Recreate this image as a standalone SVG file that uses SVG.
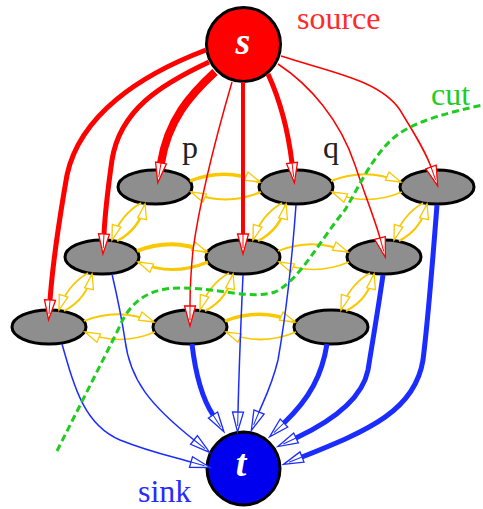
<svg xmlns="http://www.w3.org/2000/svg" width="483" height="509" viewBox="0 0 483 509">
<style>
.node{fill:#8e8e8e;stroke:#000;stroke-width:3}
.term{stroke:#000;stroke-width:3}
.r{fill:none;stroke:#ff0000;marker-end:url(#arR)}
.b{fill:none;stroke:#1a2cff;marker-end:url(#arB)}
.y{fill:none;stroke:#f8c800;marker-end:url(#arY)}
.lbl{font-family:"Liberation Serif","Times New Roman",serif;font-size:32px}
.big{font-family:"Liberation Serif","Times New Roman",serif;font-size:38px;font-weight:bold;font-style:italic;fill:#fff;text-anchor:middle}
</style>
<defs>
<marker id="arR" markerUnits="userSpaceOnUse" markerWidth="24" markerHeight="16" viewBox="-2 -8 24 16" refX="0" refY="0" orient="auto">
<path d="M0,-5.5 L20,0 L0,5.5 Z" fill="#fff" stroke="#ff0000" stroke-width="1.3"/>
<path d="M0,0 L14,0" stroke="#ff0000" stroke-width="1"/>
</marker>
<marker id="arB" markerUnits="userSpaceOnUse" markerWidth="24" markerHeight="16" viewBox="-2 -8 24 16" refX="0" refY="0" orient="auto">
<path d="M0,-5.5 L20,0 L0,5.5 Z" fill="#fff" stroke="#1a2cff" stroke-width="1.3"/>
<path d="M0,0 L14,0" stroke="#1a2cff" stroke-width="1"/>
</marker>
<marker id="arY" markerUnits="userSpaceOnUse" markerWidth="20" markerHeight="14" viewBox="-2 -7 20 14" refX="15" refY="0" orient="auto">
<path d="M0,-4.5 L15,0 L0,4.5 Z" fill="#fff" stroke="#f8c800" stroke-width="1.3"/>
</marker>
</defs>
<rect width="483" height="509" fill="#fff"/>

<g id="nodes">
<g id="s"><circle class="term" cx="243.5" cy="44.5" r="37" fill="#ff0000"/><text class="big" x="243" y="54">s</text></g>
<g id="t"><circle class="term" cx="243.5" cy="468.5" r="36.5" fill="#0000ee"/><text class="big" x="241" y="476">t</text></g>
<g id="n11"><ellipse class="node" cx="155" cy="187" rx="37" ry="17"/></g>
<g id="n12"><ellipse class="node" cx="296" cy="187" rx="37" ry="17"/></g>
<g id="n13"><ellipse class="node" cx="437" cy="187" rx="37" ry="17"/></g>
<g id="n21"><ellipse class="node" cx="102" cy="257" rx="37" ry="17"/></g>
<g id="n22"><ellipse class="node" cx="243" cy="257" rx="37" ry="17"/></g>
<g id="n23"><ellipse class="node" cx="384" cy="257" rx="37" ry="17"/></g>
<g id="n31"><ellipse class="node" cx="49" cy="327" rx="37" ry="17"/></g>
<g id="n32"><ellipse class="node" cx="190" cy="327" rx="37" ry="17"/></g>
<g id="n33"><ellipse class="node" cx="331" cy="327" rx="37" ry="17"/></g>
</g>

<g id="connectors">
<!-- yellow neighbour links, horizontal -->
<path class="y" stroke-width="3.5" d="M190,181 Q225,167 260,182"/>
<path class="y" stroke-width="2" d="M261,192 Q225,207 191,192"/>
<path class="y" stroke-width="2" d="M331,181 Q366,167 401,182"/>
<path class="y" stroke-width="1.6" d="M402,192 Q366,207 332,192"/>
<path class="y" stroke-width="4" d="M137,251 Q172,237 207,252"/>
<path class="y" stroke-width="3" d="M208,262 Q172,277 138,262"/>
<path class="y" stroke-width="1.8" d="M278,251 Q313,237 348,252"/>
<path class="y" stroke-width="1.6" d="M349,262 Q313,277 279,262"/>
<path class="y" stroke-width="1.8" d="M84,321 Q119,307 154,322"/>
<path class="y" stroke-width="1.6" d="M155,332 Q119,347 85,332"/>
<path class="y" stroke-width="3.5" d="M225,321 Q260,307 295,322"/>
<path class="y" stroke-width="1.8" d="M296,332 Q260,347 226,332"/>
<!-- yellow neighbour links, diagonal -->
<g transform="translate(155,187)"><path class="y" stroke-width="2.5" d="M-38,54 Q-15,42 -10,17"/><path class="y" stroke-width="2" d="M-14,16 Q-35,28 -43,53"/></g>
<g transform="translate(296,187)"><path class="y" stroke-width="2.5" d="M-38,54 Q-15,42 -10,17"/><path class="y" stroke-width="2" d="M-14,16 Q-35,28 -43,53"/></g>
<g transform="translate(437,187)"><path class="y" stroke-width="2" d="M-38,54 Q-15,42 -10,17"/><path class="y" stroke-width="1.6" d="M-14,16 Q-35,28 -43,53"/></g>
<g transform="translate(102,257)"><path class="y" stroke-width="1.8" d="M-38,54 Q-15,42 -10,17"/><path class="y" stroke-width="1.6" d="M-14,16 Q-35,28 -43,53"/></g>
<g transform="translate(243,257)"><path class="y" stroke-width="2" d="M-38,54 Q-15,42 -10,17"/><path class="y" stroke-width="1.6" d="M-14,16 Q-35,28 -43,53"/></g>
<g transform="translate(384,257)"><path class="y" stroke-width="2" d="M-38,54 Q-15,42 -10,17"/><path class="y" stroke-width="1.6" d="M-14,16 Q-35,28 -43,53"/></g>

<!-- source links -->
<path class="r" stroke-width="5" d="M206,50 C140,75 80,115 67,175 C60,215 53,260 50,300"/>
<path class="r" stroke-width="5" d="M209,62 C160,85 120,110 112,160 C107,195 105,215 104,234"/>
<path class="r" stroke-width="8" d="M215,72 C190,95 168,120 161,163"/>
<path class="r" stroke-width="1.5" d="M232,82 C218,130 200,200 193,250 C191,270 190,290 190,306"/>
<path class="r" stroke-width="4" d="M243,82 L243,234"/>
<path class="r" stroke-width="5" d="M268,74 C280,100 288,130 292,163"/>
<path class="r" stroke-width="1.5" d="M278,64 C310,85 340,120 355,165 C365,195 375,220 380,238"/>
<path class="r" stroke-width="1.5" d="M281,56 C330,72 380,80 400,110 C415,135 425,150 431,167"/>

<!-- sink links -->
<path class="b" stroke-width="1.5" d="M62,344 C75,390 85,425 120,440 C150,452 170,456 191,462"/>
<path class="b" stroke-width="1.5" d="M112,274 C118,300 122,320 125,340 C130,380 150,405 194,440"/>
<path class="b" stroke-width="5" d="M192,344 C195,370 200,395 213,415"/>
<path class="b" stroke-width="1.5" d="M243,275 C241,320 239,370 238,412"/>
<path class="b" stroke-width="1.5" d="M296,205 C292,260 285,320 278,360 C272,385 264,400 259,412"/>
<path class="b" stroke-width="5" d="M327,344 C322,375 310,398 284,423"/>
<path class="b" stroke-width="5" d="M383,275 C378,310 372,345 368,370 C362,400 330,422 296,438"/>
<path class="b" stroke-width="5" d="M437,205 C432,270 428,320 423,360 C415,410 370,430 302,457"/>
</g>

<g id="cut">
<path d="M57,451 L118,330 C130,300 150,288 180,288 C220,288 250,300 275,292 C300,280 320,240 345,210 C360,185 375,150 400,133 C420,120 450,112 483,105" fill="none" stroke="#1fcc1f" stroke-width="3" stroke-dasharray="7,4"/>
</g>

<g id="labels">
<text class="lbl" x="297" y="29" fill="#ff2a2a">source</text>
<text class="lbl" x="138" y="502" fill="#2a2aff">sink</text>
<text class="lbl" x="431" y="105" fill="#22cc22">cut</text>
<text class="lbl" x="182" y="158" fill="#222" font-size="30">p</text>
<text class="lbl" x="323" y="158" fill="#222" font-size="30">q</text>
</g>
</svg>
